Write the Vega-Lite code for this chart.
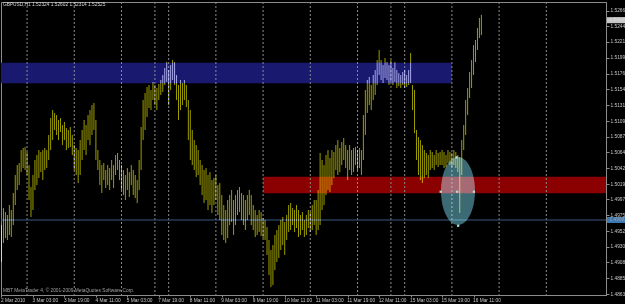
{
"$schema": "https://vega.github.io/schema/vega-lite/v6.json",
"width": 605, "height": 293,
"autosize": {"type": "none"},
"padding": {"left": 1, "top": 2, "right": 19, "bottom": 9},
"background": "#000000",
"config": {
  "view": {"stroke": "#8c8c8c", "strokeWidth": 1, "fill": "#000000"},
  "axis": {"grid": false, "domainColor": "#8c8c8c", "tickColor": "#8c8c8c", "labelColor": "#c8c8c8", "labelFont": "Liberation Sans", "labelFontSize": 4.8, "labelBound": false, "labelFlush": false, "labelOverlap": false}
},
"datasets": {
  "bars": [
{"i":0,"h":1.49611,"l":1.49085},{"i":1,"h":1.49853,"l":1.49355},{"i":2,"h":1.49796,"l":1.49426},{"i":3,"h":1.49754,"l":1.49398},{"i":4,"h":1.49896,"l":1.49469},
{"i":5,"h":1.49825,"l":1.49441},{"i":6,"h":1.50067,"l":1.49611},{"i":7,"h":1.50323,"l":1.49896},{"i":8,"h":1.50465,"l":1.50109},{"i":9,"h":1.50493,"l":1.50180},
{"i":10,"h":1.50678,"l":1.50365},{"i":11,"h":1.50707,"l":1.50422},{"i":12,"h":1.50721,"l":1.50394},{"i":13,"h":1.50650,"l":1.50323},{"i":14,"h":1.50465,"l":1.49967},
{"i":15,"h":1.50152,"l":1.49725},{"i":16,"h":1.50323,"l":1.49825},{"i":17,"h":1.50536,"l":1.50109},{"i":18,"h":1.50607,"l":1.50180},{"i":19,"h":1.50678,"l":1.50280},
{"i":20,"h":1.50650,"l":1.50365},{"i":21,"h":1.50678,"l":1.50251},{"i":22,"h":1.50707,"l":1.50394},{"i":23,"h":1.50678,"l":1.50422},{"i":24,"h":1.50892,"l":1.50536},
{"i":25,"h":1.51133,"l":1.50678},{"i":26,"h":1.51247,"l":1.50820},{"i":27,"h":1.51205,"l":1.50963},{"i":28,"h":1.51176,"l":1.50892},{"i":29,"h":1.51105,"l":1.50820},
{"i":30,"h":1.51133,"l":1.50934},{"i":31,"h":1.51034,"l":1.50749},{"i":32,"h":1.51077,"l":1.50820},{"i":33,"h":1.50991,"l":1.50678},{"i":34,"h":1.50963,"l":1.50707},
{"i":35,"h":1.51005,"l":1.50721},{"i":36,"h":1.50892,"l":1.50607},{"i":37,"h":1.50749,"l":1.50394},{"i":38,"h":1.50707,"l":1.50323},{"i":39,"h":1.50678,"l":1.50209},
{"i":40,"h":1.50820,"l":1.50323},{"i":41,"h":1.50963,"l":1.50536},{"i":42,"h":1.51105,"l":1.50678},{"i":43,"h":1.51034,"l":1.50607},{"i":44,"h":1.51176,"l":1.50820},
{"i":45,"h":1.51247,"l":1.50749},{"i":46,"h":1.51318,"l":1.50892},{"i":47,"h":1.51347,"l":1.50963},{"i":48,"h":1.51105,"l":1.50536},{"i":49,"h":1.50678,"l":1.50394},
{"i":50,"h":1.50536,"l":1.50180},{"i":51,"h":1.50465,"l":1.50067},{"i":52,"h":1.50493,"l":1.50251},{"i":53,"h":1.50394,"l":1.50138},{"i":54,"h":1.50465,"l":1.50180},
{"i":55,"h":1.50422,"l":1.50109},{"i":56,"h":1.50536,"l":1.50251},{"i":57,"h":1.50465,"l":1.50138},{"i":58,"h":1.50607,"l":1.50323},{"i":59,"h":1.50636,"l":1.50394},
{"i":60,"h":1.50536,"l":1.50251},{"i":61,"h":1.50465,"l":1.50109},{"i":62,"h":1.50394,"l":1.50038},{"i":63,"h":1.50323,"l":1.49967},{"i":64,"h":1.50422,"l":1.50109},
{"i":65,"h":1.50365,"l":1.50010},{"i":66,"h":1.50465,"l":1.50180},{"i":67,"h":1.50394,"l":1.50038},{"i":68,"h":1.50323,"l":1.49995},{"i":69,"h":1.50251,"l":1.49924},
{"i":70,"h":1.50536,"l":1.50109},{"i":71,"h":1.51005,"l":1.50394},{"i":72,"h":1.51389,"l":1.50820},{"i":73,"h":1.51489,"l":1.50963},{"i":74,"h":1.51574,"l":1.51148},
{"i":75,"h":1.51603,"l":1.51276},{"i":76,"h":1.51532,"l":1.51247},{"i":77,"h":1.51646,"l":1.51389},{"i":78,"h":1.51603,"l":1.51318},{"i":79,"h":1.51560,"l":1.51247},
{"i":80,"h":1.51617,"l":1.51389},{"i":81,"h":1.51674,"l":1.51461},{"i":82,"h":1.51745,"l":1.51503},{"i":83,"h":1.51845,"l":1.51603},{"i":84,"h":1.51930,"l":1.51646},
{"i":85,"h":1.51816,"l":1.51318},{"i":86,"h":1.51887,"l":1.51532},{"i":87,"h":1.51958,"l":1.51674},{"i":88,"h":1.51930,"l":1.51603},{"i":89,"h":1.51745,"l":1.51389},
{"i":90,"h":1.51603,"l":1.51105},{"i":91,"h":1.51674,"l":1.51247},{"i":92,"h":1.51631,"l":1.51318},{"i":93,"h":1.51674,"l":1.51389},{"i":94,"h":1.51603,"l":1.51290},
{"i":95,"h":1.51389,"l":1.50820},{"i":96,"h":1.51247,"l":1.50536},{"i":97,"h":1.50963,"l":1.50465},{"i":98,"h":1.50820,"l":1.50394},{"i":99,"h":1.50749,"l":1.50294},
{"i":100,"h":1.50678,"l":1.50323},{"i":101,"h":1.50536,"l":1.50180},{"i":102,"h":1.50465,"l":1.50038},{"i":103,"h":1.50394,"l":1.49924},{"i":104,"h":1.50422,"l":1.49967},
{"i":105,"h":1.50323,"l":1.49825},{"i":106,"h":1.50365,"l":1.49896},{"i":107,"h":1.50251,"l":1.49782},{"i":108,"h":1.50280,"l":1.49896},{"i":109,"h":1.50323,"l":1.49967},
{"i":110,"h":1.50180,"l":1.49754},{"i":111,"h":1.50209,"l":1.49682},{"i":112,"h":1.50038,"l":1.49469},{"i":113,"h":1.49896,"l":1.49398},{"i":114,"h":1.49825,"l":1.49355},
{"i":115,"h":1.49967,"l":1.49426},{"i":116,"h":1.50038,"l":1.49611},{"i":117,"h":1.50109,"l":1.49654},{"i":118,"h":1.49967,"l":1.49469},{"i":119,"h":1.50038,"l":1.49611},
{"i":120,"h":1.50109,"l":1.49754},{"i":121,"h":1.50152,"l":1.49796},{"i":122,"h":1.50067,"l":1.49682},{"i":123,"h":1.50038,"l":1.49611},{"i":124,"h":1.49967,"l":1.49540},
{"i":125,"h":1.50038,"l":1.49682},{"i":126,"h":1.50109,"l":1.49754},{"i":127,"h":1.50038,"l":1.49611},{"i":128,"h":1.49896,"l":1.49540},{"i":129,"h":1.49825,"l":1.49441},
{"i":130,"h":1.49754,"l":1.49469},{"i":131,"h":1.49825,"l":1.49512},{"i":132,"h":1.49796,"l":1.49455},{"i":133,"h":1.49711,"l":1.49426},{"i":134,"h":1.49682,"l":1.49398},
{"i":135,"h":1.49583,"l":1.49185},{"i":136,"h":1.49398,"l":1.48900},{"i":137,"h":1.49256,"l":1.48729},{"i":138,"h":1.49327,"l":1.48758},{"i":139,"h":1.49469,"l":1.48971},
{"i":140,"h":1.49540,"l":1.49085},{"i":141,"h":1.49611,"l":1.49142},{"i":142,"h":1.49682,"l":1.49256},{"i":143,"h":1.49725,"l":1.49327},{"i":144,"h":1.49654,"l":1.49185},
{"i":145,"h":1.49754,"l":1.49398},{"i":146,"h":1.49896,"l":1.49512},{"i":147,"h":1.49924,"l":1.49540},{"i":148,"h":1.49853,"l":1.49611},{"i":149,"h":1.49825,"l":1.49512},
{"i":150,"h":1.49896,"l":1.49569},{"i":151,"h":1.49825,"l":1.49441},{"i":152,"h":1.49754,"l":1.49469},{"i":153,"h":1.49796,"l":1.49540},{"i":154,"h":1.49682,"l":1.49441},
{"i":155,"h":1.49754,"l":1.49469},{"i":156,"h":1.49825,"l":1.49569},{"i":157,"h":1.49796,"l":1.49512},{"i":158,"h":1.49896,"l":1.49540},{"i":159,"h":1.49967,"l":1.49611},
{"i":160,"h":1.49967,"l":1.49469},{"i":161,"h":1.50109,"l":1.49540},{"i":162,"h":1.50636,"l":1.49611},{"i":163,"h":1.50536,"l":1.49825},{"i":164,"h":1.50465,"l":1.49896},
{"i":165,"h":1.50607,"l":1.50038},{"i":166,"h":1.50678,"l":1.50109},{"i":167,"h":1.50564,"l":1.50081},{"i":168,"h":1.50678,"l":1.50180},{"i":169,"h":1.50650,"l":1.50280},
{"i":170,"h":1.50749,"l":1.50394},{"i":171,"h":1.50820,"l":1.50323},{"i":172,"h":1.50707,"l":1.50365},{"i":173,"h":1.50792,"l":1.50465},{"i":174,"h":1.50849,"l":1.50536},
{"i":175,"h":1.50749,"l":1.50422},{"i":176,"h":1.50678,"l":1.50251},{"i":177,"h":1.50749,"l":1.50394},{"i":178,"h":1.50678,"l":1.50323},{"i":179,"h":1.50707,"l":1.50365},
{"i":180,"h":1.50721,"l":1.50465},{"i":181,"h":1.50678,"l":1.50394},{"i":182,"h":1.50707,"l":1.50422},{"i":183,"h":1.50678,"l":1.50323},{"i":184,"h":1.51176,"l":1.50536},
{"i":185,"h":1.51532,"l":1.50892},{"i":186,"h":1.51674,"l":1.51205},{"i":187,"h":1.51717,"l":1.51318},{"i":188,"h":1.51603,"l":1.51247},{"i":189,"h":1.51745,"l":1.51389},
{"i":190,"h":1.51816,"l":1.51461},{"i":191,"h":1.51958,"l":1.51603},{"i":192,"h":1.52101,"l":1.51745},{"i":193,"h":1.51958,"l":1.51674},{"i":194,"h":1.51887,"l":1.51631},
{"i":195,"h":1.51987,"l":1.51702},{"i":196,"h":1.51930,"l":1.51674},{"i":197,"h":1.51887,"l":1.51603},{"i":198,"h":1.51958,"l":1.51646},{"i":199,"h":1.51845,"l":1.51603},
{"i":200,"h":1.51930,"l":1.51646},{"i":201,"h":1.51816,"l":1.51560},{"i":202,"h":1.51774,"l":1.51589},{"i":203,"h":1.51745,"l":1.51560},{"i":204,"h":1.51788,"l":1.51603},
{"i":205,"h":1.51816,"l":1.51560},{"i":206,"h":1.51745,"l":1.51574},{"i":207,"h":1.51816,"l":1.51603},{"i":208,"h":1.52058,"l":1.51631},{"i":209,"h":1.51603,"l":1.51247},
{"i":210,"h":1.51532,"l":1.50920},{"i":211,"h":1.50963,"l":1.50536},{"i":212,"h":1.50863,"l":1.50323},{"i":213,"h":1.50820,"l":1.50251},{"i":214,"h":1.50749,"l":1.50209},
{"i":215,"h":1.50678,"l":1.50280},{"i":216,"h":1.50636,"l":1.50323},{"i":217,"h":1.50607,"l":1.50280},{"i":218,"h":1.50678,"l":1.50394},{"i":219,"h":1.50650,"l":1.50422},
{"i":220,"h":1.50607,"l":1.50394},{"i":221,"h":1.50678,"l":1.50465},{"i":222,"h":1.50636,"l":1.50436},{"i":223,"h":1.50650,"l":1.50465},{"i":224,"h":1.50678,"l":1.50465},
{"i":225,"h":1.50650,"l":1.50422},{"i":226,"h":1.50607,"l":1.50436},{"i":227,"h":1.50678,"l":1.50493},{"i":228,"h":1.50650,"l":1.50465},{"i":229,"h":1.50636,"l":1.50436},
{"i":230,"h":1.50678,"l":1.50465},{"i":231,"h":1.50650,"l":1.50422},{"i":232,"h":1.50607,"l":1.50365},{"i":233,"h":1.50579,"l":1.49782},{"i":234,"h":1.50820,"l":1.50323},
{"i":235,"h":1.51034,"l":1.50678},{"i":236,"h":1.51389,"l":1.50892},{"i":237,"h":1.51560,"l":1.51176},{"i":238,"h":1.51788,"l":1.51418},{"i":239,"h":1.51958,"l":1.51560},
{"i":240,"h":1.52172,"l":1.51745},{"i":241,"h":1.52243,"l":1.51930},{"i":242,"h":1.52414,"l":1.52101},{"i":243,"h":1.52556,"l":1.52271},{"i":244,"h":1.52602,"l":1.52314}
  ],
  "grid": [{"i":13},{"i":37},{"i":61},{"i":78},{"i":85},{"i":109},{"i":133},{"i":157},{"i":181},{"i":198},{"i":205},{"i":229},{"i":253},{"i":277}],
  "blueband": [{"i":-0.25,"i2":229,"h":1.51920,"l":1.51627}],
  "redband": [{"i":133,"i2":320,"h":1.50299,"l":1.50062}],
  "hline": [{"h":1.49683}],
  "ellipse": [{"i":232.1,"h":1.50095}],
  "handles": [{"i":223.3,"h":1.50085},{"i":240.2,"h":1.50085},{"i":231.7,"h":1.50085},{"i":232.2,"h":1.49601},{"i":231.4,"h":1.50574}],
  "texts": [{"i":0.76,"h":1.52741,"t":"GBPUSD,H1  1.52324 1.52602 1.52314 1.52525","c":"title"},{"i":0.76,"h":1.48673,"t":"MBT MetaTrader 4, © 2001-2009 MetaQuotes Software Corp.","c":"copy"}],
  "pricelabels": [{"i":312.95,"it":309.15,"h":1.52525,"t":"1.52525","c":"bid"},{"i":312.95,"it":309.15,"h":1.49683,"t":"1.49683","c":"line"}]
},
"layer": [
  {
    "data": {"name": "blueband"},
    "mark": {"type": "rect", "color": "#191970"},
    "encoding": {
      "x": {"field": "i", "type": "quantitative", "scale": {"domain": [-0.25, 307.35], "nice": false, "zero": false}, "axis": {"title": null, "labelOverlap": false}},
      "x2": {"field": "i2"},
      "y": {"field": "h", "type": "quantitative", "scale": {"domain": [1.48616, 1.52784], "nice": false, "zero": false}, "axis": {"title": null, "labelOverlap": false}},
      "y2": {"field": "l"}
    }
  },
  {
    "data": {"name": "redband"},
    "mark": {"type": "rect", "color": "#8b0000", "clip": true},
    "encoding": {
      "x": {"field": "i", "type": "quantitative", "scale": {"domain": [-0.25, 307.35], "nice": false, "zero": false}, "axis": {"title": null, "labelOverlap": false}},
      "x2": {"field": "i2"},
      "y": {"field": "h", "type": "quantitative", "scale": {"domain": [1.48616, 1.52784], "nice": false, "zero": false}, "axis": {"title": null, "labelOverlap": false}},
      "y2": {"field": "l"}
    }
  },
  {
    "data": {"name": "grid"},
    "mark": {"type": "rule", "color": "#8c8c8c", "strokeWidth": 1, "strokeDash": [2, 2]},
    "encoding": {
      "x": {"field": "i", "type": "quantitative", "scale": {"domain": [-0.25, 307.35], "nice": false, "zero": false}, "axis": {"title": null, "labelOverlap": false}}
    }
  },
  {
    "data": {"name": "hline"},
    "mark": {"type": "rule", "color": "#3a5a80", "strokeWidth": 1},
    "encoding": {
      "y": {"field": "h", "type": "quantitative", "scale": {"domain": [1.48616, 1.52784], "nice": false, "zero": false}, "axis": {"title": null, "labelOverlap": false}}
    }
  },
  {
    "data": {"name": "bars"},
    "mark": {"type": "rule", "color": "#9c9c00", "strokeWidth": 1, "blend": "screen"},
    "encoding": {
      "x": {"field": "i", "type": "quantitative", "scale": {"domain": [-0.25, 307.35], "nice": false, "zero": false},
        "axis": {"title": null, "labelOverlap": false, "tickCount": 100, "values": [0,16,32,48,64,80,96,112,128,144,160,176,192,208,224,240],
          "labelExpr": "['2 Mar 2010','3 Mar 03:00','3 Mar 19:00','4 Mar 11:00','5 Mar 03:00','7 Mar 19:00','8 Mar 11:00','9 Mar 03:00','9 Mar 19:00','10 Mar 11:00','11 Mar 03:00','11 Mar 19:00','12 Mar 11:00','15 Mar 03:00','15 Mar 19:00','16 Mar 11:00'][round(datum.value/16)]",
          "labelAlign": "left", "labelOffset": -1, "tickSize": 2, "labelPadding": 0.5, "labelBaseline": "top"}},
      "y": {"field": "h", "type": "quantitative", "scale": {"domain": [1.48616, 1.52784], "nice": false, "zero": false},
        "axis": {"title": null, "labelOverlap": false, "tickCount": 100, "orient": "right", "values": [1.5266,1.5244,1.52215,1.5199,1.51765,1.5154,1.51315,1.5109,1.5087,1.50645,1.5042,1.50195,1.49975,1.4975,1.49525,1.493,1.4908,1.48855,1.4863],
          "format": ".5f", "tickSize": 3, "labelPadding": 1, "labelBaseline": "middle", "labelAlign": "left"}},
      "y2": {"field": "l"}
    }
  },
  {
    "data": {"name": "bars"},
    "mark": {"type": "rule", "color": "#000085", "strokeWidth": 1, "blend": "color-dodge"},
    "encoding": {
      "x": {"field": "i", "type": "quantitative", "scale": {"domain": [-0.25, 307.35], "nice": false, "zero": false}, "axis": {"title": null, "labelOverlap": false}},
      "y": {"field": "h", "type": "quantitative", "scale": {"domain": [1.48616, 1.52784], "nice": false, "zero": false}, "axis": {"title": null, "labelOverlap": false}},
      "y2": {"field": "l"}
    }
  },
  {
    "data": {"name": "ellipse"},
    "mark": {"type": "point", "shape": "M0,-1A0.5,1,0,1,1,0,1A0.5,1,0,1,1,0,-1Z", "size": 4624, "filled": true, "color": "#3c6a74", "opacity": 1, "blend": "screen"},
    "encoding": {
      "x": {"field": "i", "type": "quantitative", "scale": {"domain": [-0.25, 307.35], "nice": false, "zero": false}, "axis": {"title": null, "labelOverlap": false}},
      "y": {"field": "h", "type": "quantitative", "scale": {"domain": [1.48616, 1.52784], "nice": false, "zero": false}, "axis": {"title": null, "labelOverlap": false}}
    }
  },
  {
    "data": {"name": "handles"},
    "mark": {"type": "point", "shape": "square", "size": 5, "filled": true, "color": "#b0e0e0", "opacity": 1},
    "encoding": {
      "x": {"field": "i", "type": "quantitative", "scale": {"domain": [-0.25, 307.35], "nice": false, "zero": false}, "axis": {"title": null, "labelOverlap": false}},
      "y": {"field": "h", "type": "quantitative", "scale": {"domain": [1.48616, 1.52784], "nice": false, "zero": false}, "axis": {"title": null, "labelOverlap": false}}
    }
  },
  {
    "data": {"name": "texts"},
    "mark": {"type": "text", "align": "left", "baseline": "middle", "font": "Liberation Sans", "fontSize": 4.8},
    "encoding": {
      "x": {"field": "i", "type": "quantitative", "scale": {"domain": [-0.25, 307.35], "nice": false, "zero": false}, "axis": {"title": null, "labelOverlap": false}},
      "y": {"field": "h", "type": "quantitative", "scale": {"domain": [1.48616, 1.52784], "nice": false, "zero": false}, "axis": {"title": null, "labelOverlap": false}},
      "text": {"field": "t"},
      "color": {"field": "c", "type": "nominal", "scale": {"domain": ["title", "copy"], "range": ["#d8d8d8", "#a0a0a0"]}, "legend": null}
    }
  },
  {
    "data": {"name": "pricelabels"},
    "mark": {"type": "point", "shape": "M-1,-0.3H1V0.3H-1Z", "size": 400, "filled": true, "opacity": 1},
    "encoding": {
      "x": {"field": "i", "type": "quantitative", "scale": {"domain": [-0.25, 307.35], "nice": false, "zero": false}, "axis": {"title": null, "labelOverlap": false}},
      "y": {"field": "h", "type": "quantitative", "scale": {"domain": [1.48616, 1.52784], "nice": false, "zero": false}, "axis": {"title": null, "labelOverlap": false}},
      "fill": {"field": "c", "type": "nominal", "scale": {"domain": ["bid", "line"], "range": ["#c8c8c8", "#3c78b4"]}, "legend": null}
    }
  },
  {
    "data": {"name": "pricelabels"},
    "mark": {"type": "text", "align": "left", "baseline": "middle", "font": "Liberation Sans", "fontSize": 4.8},
    "encoding": {
      "x": {"field": "it", "type": "quantitative", "scale": {"domain": [-0.25, 307.35], "nice": false, "zero": false}, "axis": {"title": null, "labelOverlap": false}},
      "y": {"field": "h", "type": "quantitative", "scale": {"domain": [1.48616, 1.52784], "nice": false, "zero": false}, "axis": {"title": null, "labelOverlap": false}},
      "text": {"field": "t"},
      "color": {"field": "c", "type": "nominal", "scale": {"domain": ["bid", "line"], "range": ["#000000", "#ffffff"]}, "legend": null}
    }
  }
]
}
